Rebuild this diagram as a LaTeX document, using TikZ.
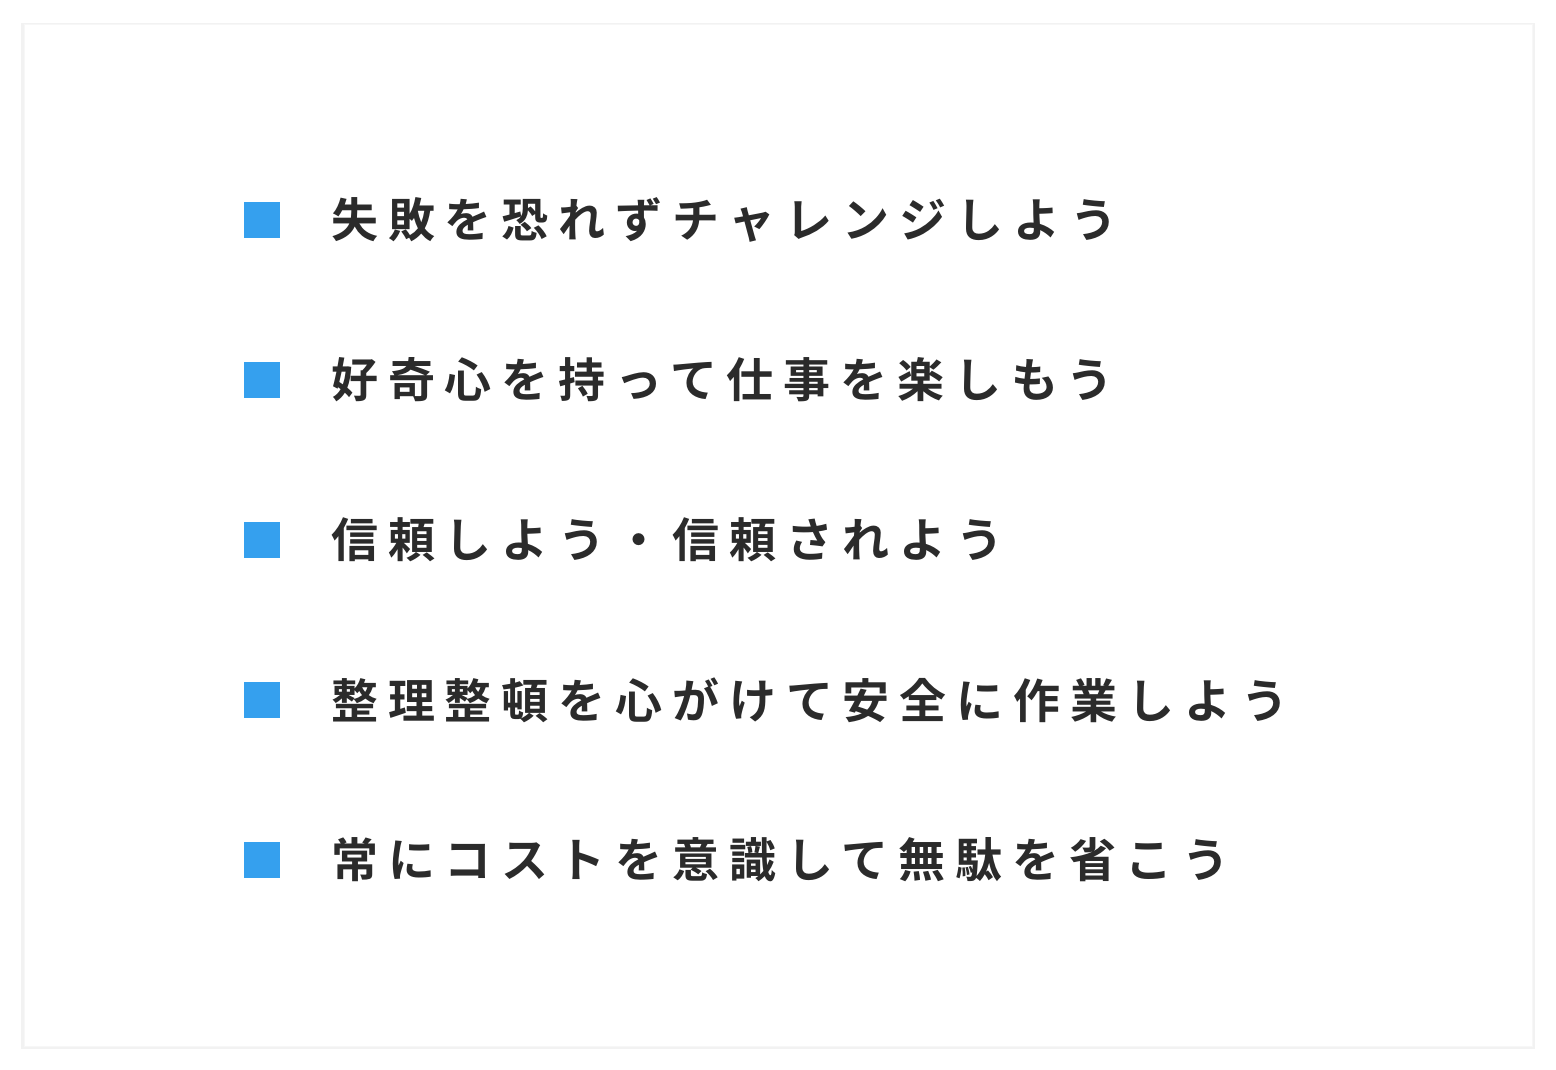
\documentclass[tikz,border=0pt]{standalone}
\usepackage{fontspec}
\newfontfamily\jpfont[LetterSpace=21]{Noto Sans CJK JP Bold}
\usetikzlibrary{shadows}
\definecolor{mark}{HTML}{35A0EE}
\definecolor{ink}{HTML}{2B2B2B}
\tikzset{
  card/.style={fill=white, draw=black!3, line width=0.6pt, drop shadow={shadow xshift=0pt, shadow yshift=-1pt, shadow scale=1.004, opacity=0.05, fill=black}},
  bullet/.style={fill=mark, draw=none, minimum size=36pt, inner sep=0pt},
  item/.style={anchor=west, inner sep=0pt, text=ink, font=\jpfont\fontsize{47pt}{52pt}\selectfont}
}
\begin{document}
\begin{tikzpicture}[x=1pt, y=1pt]
	\useasboundingbox (0,0) rectangle (1556,1070);
	\fill [white] (0,0) rectangle (1556,1070);
	\fill [card] (24,24) rectangle (1532,1046);

	\foreach \n/\y/\t in {a/850/失敗を恐れずチャレンジしよう,
	                      b/690/好奇心を持って仕事を楽しもう,
	                      c/530/信頼しよう・信頼されよう,
	                      d/370/整理整頓を心がけて安全に作業しよう,
	                      e/210/常にコストを意識して無駄を省こう} {
		\node [bullet] (sq\n) at (262,\y) {};
		\node [item] (txt\n) at (331,\y) {\t};
	}
\end{tikzpicture}
\end{document}
